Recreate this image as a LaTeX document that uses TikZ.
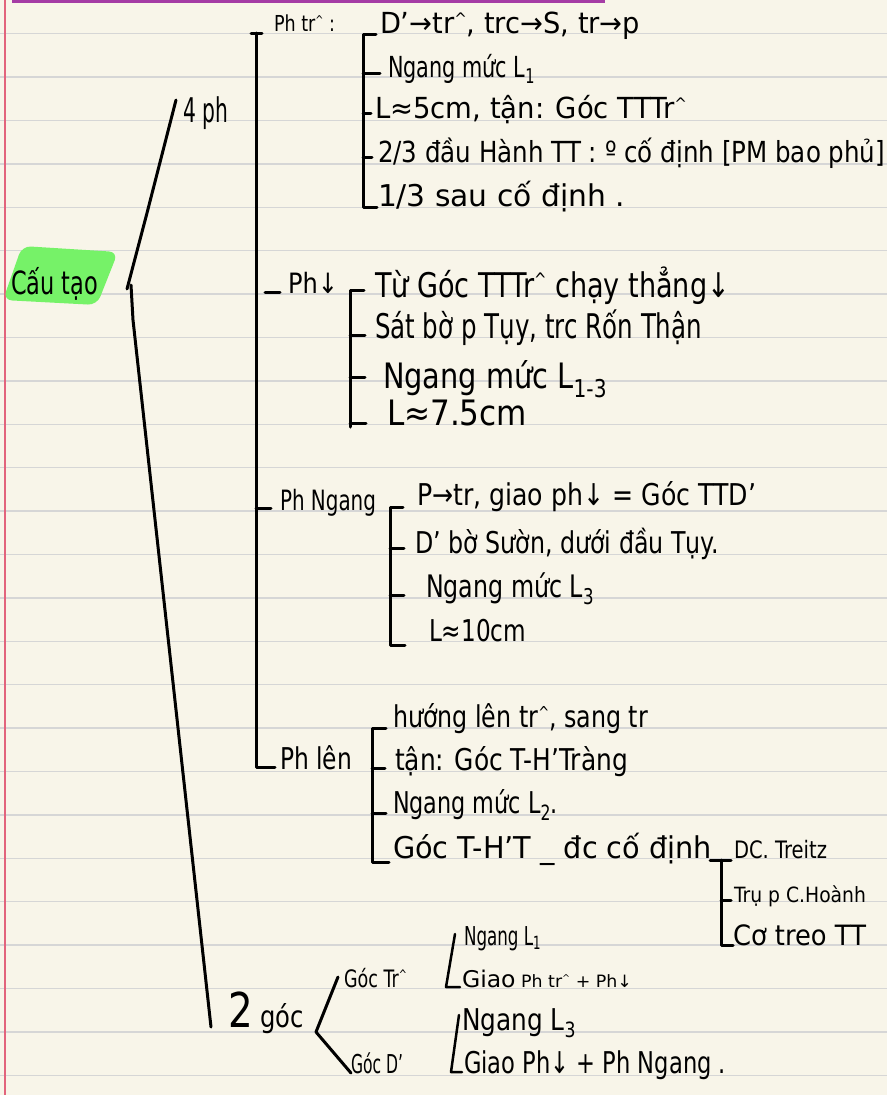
\documentclass[tikz,border=0pt]{standalone}
\usepackage{fontspec}
\usepackage{graphicx}
\setmainfont{DejaVu Sans}
\definecolor{paper}{RGB}{248,245,233}
\definecolor{rulegray}{RGB}{214,214,214}
\definecolor{marginred}{RGB}{226,100,124}
\definecolor{purp}{RGB}{165,60,165}
\definecolor{hilite}{RGB}{118,242,104}
\newcommand\crt{\raisebox{0.3em}{\scalebox{0.55}{\textasciicircum}}}
\newcommand\hsz[1]{\fontsize{#1}{#1}\selectfont}
\newcommand\fitw[2]{\resizebox{#1pt}{\height}{#2}}
\tikzset{
  hw/.style={anchor=base west, inner sep=0pt, outer sep=0pt, text=black},
  pen/.style={line width=3pt, line cap=round, line join=round, draw=black},
  thinpen/.style={line width=2.5pt, line cap=round, line join=round, draw=black},
  rulel/.style={line width=1.4pt, draw=rulegray}
}
\begin{document}
\begin{tikzpicture}[x=1pt,y=-1pt]
\useasboundingbox (0,0) rectangle (887,1095);
\fill[paper] (0,0) rectangle (887,1095);
\foreach \k in {0,...,24} \draw[rulel] (0,{33.6+43.4*\k}) -- (887,{33.6+43.4*\k});
\draw[marginred, line width=1.6pt] (5,0) -- (5,1095);
\draw[purp, line width=3pt] (12,1.5) -- (605,1.5);

% highlight
\fill[hilite, rounded corners=9pt] (3,300) -- (22,246) -- (118,252) -- (97,305) -- cycle;

% root and first level
\node[hw, font=\hsz{32}] (cautao) at (11,294) {\fitw{87}{Cấu tạo}};
\node[hw, font=\hsz{34}] (bonph) at (183,122) {\fitw{45}{4 ph}};
\node[hw, font=\hsz{30}] (haigoc) at (228,1027) {\fitw{76}{{\hsz{48}2} góc}};

\coordinate (br0) at (127,289);
\coordinate (brk) at (147,213);
\coordinate (brtop) at (176,100);
\coordinate (brs) at (131,285);
\coordinate (brm) at (133,320);
\coordinate (brbot) at (211,1027);
\draw[pen] (brtop) -- (brk) -- (br0);
\draw[pen] (brs) -- (brm) -- (brbot);

% main vertical spine of 4 ph
\coordinate (sptop) at (256,33);
\coordinate (spbot) at (256,767);
\draw[pen] (sptop) -- (spbot) -- (275,767);
\draw[pen] (251,33) -- (262,33);

% branch labels
\node[hw, font=\hsz{22}] (phtr) at (274,31) {\fitw{61}{Ph tr\crt\ :}};
\node[hw, font=\hsz{28}] (phxuong) at (288,293) {\fitw{50}{Ph↓}};
\draw[pen] (265,292) -- (280,292);
\node[hw, font=\hsz{28}] (phngang) at (280,510) {\fitw{96}{Ph Ngang}};
\draw[pen] (256,508) -- (271,508);
\node[hw, font=\hsz{30}] (phlen) at (280,769) {\fitw{72}{Ph lên}};

% group 1
\draw[pen] (376,34) -- (363,34) -- (363,207) -- (377,207);
\draw[pen] (363,73) -- (380,73);
\draw[pen] (363,113) -- (371,113);
\draw[pen] (363,157) -- (372,157);
\node[hw, font=\hsz{29}] (a1) at (380,33) {\fitw{260}{D'→tr\crt, trc→S, tr→p}};
\node[hw, font=\hsz{29}] (a2) at (388,77) {\fitw{147}{Ngang mức L\textsubscript{1}}};
\node[hw, font=\hsz{29}] (a3) at (375,118) {\fitw{312}{L≈5cm, tận: Góc TTTr\crt}};
\node[hw, font=\hsz{29}] (a4) at (378,162) {\fitw{507}{2/3 đầu Hành TT : º cố định [PM bao phủ]}};
\node[hw, font=\hsz{30}] (a5) at (378,206) {\fitw{247}{1/3 sau cố định .}};

% group 2
\draw[pen] (364,290) -- (350,290) -- (350,427);
\draw[pen] (350,335) -- (365,335);
\draw[pen] (350,377) -- (365,377);
\draw[pen] (350,423) -- (366,423);
\node[hw, font=\hsz{34}] (b1) at (375,297) {\fitw{355}{Từ Góc TTTr\crt\ chạy thẳng↓}};
\node[hw, font=\hsz{34}] (b2) at (375,338) {\fitw{327}{Sát bờ p Tụy, trc Rốn Thận}};
\node[hw, font=\hsz{35}] (b3) at (383,388) {\fitw{224}{Ngang mức L\textsubscript{1-3}}};
\node[hw, font=\hsz{35}] (b4) at (387,425) {\fitw{140}{L≈7.5cm}};

% group 3
\draw[pen] (403,507) -- (390,507) -- (390,645) -- (405,645);
\draw[pen] (390,548) -- (404,548);
\draw[pen] (390,595) -- (404,595);
\node[hw, font=\hsz{30}] (c1) at (417,505) {\fitw{339}{P→tr, giao ph↓ = Góc TTD'}};
\node[hw, font=\hsz{30}] (c2) at (415,553) {\fitw{304}{D' bờ Sườn, dưới đầu Tụy.}};
\node[hw, font=\hsz{31}] (c3) at (426,597) {\fitw{168}{Ngang mức L\textsubscript{3}}};
\node[hw, font=\hsz{30}] (c4) at (429,641) {\fitw{97}{L≈10cm}};

% group 4
\draw[pen] (386,728) -- (372,728) -- (372,862) -- (389,862);
\draw[pen] (372,768) -- (385,768);
\draw[pen] (372,813) -- (386,813);
\node[hw, font=\hsz{30}] (d1) at (393,727) {\fitw{255}{hướng lên tr\crt, sang tr}};
\node[hw, font=\hsz{30}] (d2) at (395,770) {\fitw{233}{tận: Góc T-H'Tràng}};
\node[hw, font=\hsz{30}] (d3) at (393,813) {\fitw{165}{Ngang mức L\textsubscript{2}.}};
\node[hw, font=\hsz{30}] (d4) at (393,858) {\fitw{319}{Góc T-H'T \_ đc cố định}};

% DC group
\draw[pen] (710,860) -- (731,860);
\draw[pen] (721,860) -- (721,945) -- (733,945);
\draw[pen] (721,900) -- (731,900);
\node[hw, font=\hsz{24}] (e1) at (734,858) {\fitw{93}{DC. Treitz}};
\node[hw, font=\hsz{21}] (e2) at (734,902) {\fitw{132}{Trụ p C.Hoành}};
\node[hw, font=\hsz{28}] (e3) at (733,945) {\fitw{133}{Cơ treo TT}};

% 2 goc group
\coordinate (gtop) at (338,977);
\coordinate (gmid) at (316,1032);
\coordinate (gbot) at (351,1073);
\draw[pen] (gtop) -- (gmid) -- (gbot);
\node[hw, font=\hsz{24}] (f1) at (344,987) {\fitw{63}{Góc Tr\crt}};
\node[hw, font=\hsz{26}] (f2) at (464,945) {\fitw{77}{Ngang L\textsubscript{1}}};
\node[hw, font=\hsz{17}] (f3) at (462,987) {\fitw{170}{{\hsz{23}Giao} Ph tr\crt\ + Ph↓}};
\draw[thinpen] (455,934) -- (446,987) -- (460,987);
\node[hw, font=\hsz{26}] (f4) at (351,1073) {\fitw{52}{Góc D'}};
\node[hw, font=\hsz{30}] (f5) at (462,1030) {\fitw{114}{Ngang L\textsubscript{3}}};
\node[hw, font=\hsz{30}] (f6) at (464,1073) {\fitw{262}{Giao Ph↓ + Ph Ngang .}};
\draw[thinpen] (459,1015) -- (451,1072) -- (462,1072);
\end{tikzpicture}
\end{document}
